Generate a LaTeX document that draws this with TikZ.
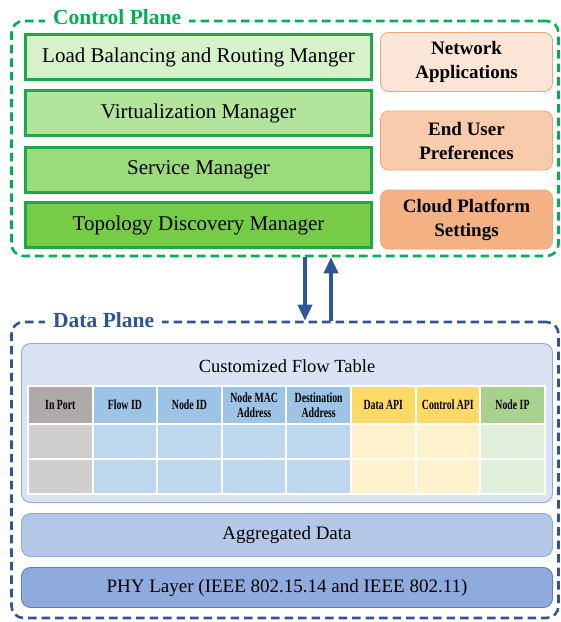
\documentclass[tikz,border=0pt]{standalone}
\usepackage{fontspec}
\setmainfont{Liberation Serif}
\newfontfamily\narrowfont[FakeStretch=0.7]{Liberation Serif}
\usetikzlibrary{arrows.meta,positioning}
\definecolor{cpgreen}{HTML}{00B050}
\definecolor{mgrline}{HTML}{1FA74A}
\definecolor{gA}{HTML}{D7F1CB}
\definecolor{gB}{HTML}{B2E49B}
\definecolor{gC}{HTML}{9ADB7B}
\definecolor{gD}{HTML}{77CC47}
\definecolor{oA}{HTML}{FBE5D6}
\definecolor{oB}{HTML}{F8CBAD}
\definecolor{oC}{HTML}{F4B183}
\definecolor{oline}{HTML}{F0A676}
\definecolor{dpblue}{HTML}{2F5597}
\definecolor{ftbg}{HTML}{DAE3F3}
\definecolor{ftline}{HTML}{8FAADC}
\definecolor{aggbg}{HTML}{B4C7E7}
\definecolor{phybg}{HTML}{8FAADC}
\definecolor{phyline}{HTML}{5B7FC0}
\definecolor{hGray}{HTML}{AEAAAA}
\definecolor{bGray}{HTML}{D0CECE}
\definecolor{hBlue}{HTML}{9DC3E6}
\definecolor{bBlue}{HTML}{BDD7EE}
\definecolor{hGold}{HTML}{FFD966}
\definecolor{bGold}{HTML}{FFF2CC}
\definecolor{hGreen}{HTML}{A9D18E}
\definecolor{bGreen}{HTML}{E2EFDA}

\begin{document}
\begin{tikzpicture}[x=1pt,y=-1pt,
  plane/.style={line width=2.6pt,dash pattern=on 8.5pt off 5pt,rounded corners=12pt},
  ptitle/.style={anchor=west,fill=white,inner xsep=8pt,inner ysep=3pt,font=\bfseries\fontsize{21.5}{24}\selectfont},
  mgr/.style={draw=mgrline,line width=3pt,minimum width=346pt,minimum height=45pt,
    font=\fontsize{21}{24}\selectfont},
  pref/.style={draw=oline,line width=0.8pt,rounded corners=8pt,minimum width=172pt,
    minimum height=59pt,align=center,font=\bfseries\fontsize{19}{24}\selectfont},
  layer/.style={draw,line width=0.9pt,rounded corners=9pt,minimum width=531pt,
    font=\fontsize{19}{22}\selectfont},
  cell/.style={draw=white,line width=2pt,minimum width=64.6pt,inner sep=1pt,align=center,
    font=\narrowfont\bfseries\fontsize{14}{15}\selectfont},
  flow/.style={draw=dpblue,line width=3.5pt,-{Triangle[length=16pt,width=14pt]}}]
  \useasboundingbox (0,0) rectangle (561,622);

  \node[plane,draw=cpgreen,minimum width=547pt,minimum height=235pt] (cp) at (285,138.5) {};
  \node[ptitle,text=cpgreen] (cptitle) at (45,17) {Control Plane};
  \foreach \i/\y/\fc/\txt in {1/57/gA/Load Balancing and Routing Manger,
      2/113/gB/Virtualization Manager,3/169.5/gC/Service Manager,
      4/225/gD/Topology Discovery Manager}
    \node[mgr,fill=\fc] (m\i) at (198.5,\y) {\txt};
  \node[pref,fill=oA] (p1) at (466.5,62) {Network\\Applications};
  \node[pref,fill=oB] (p2) at (466.5,140.5) {End User\\Preferences};
  \node[pref,fill=oC] (p3) at (466.5,219.5) {Cloud Platform\\Settings};

  \node[plane,draw=dpblue,minimum width=547pt,minimum height=296pt] (dp) at (285,470) {};
  \node[ptitle,text=dpblue] (dptitle) at (45,320) {Data Plane};
  \draw[flow] ([xshift=20pt]cp.south) -- ([xshift=20pt]dp.north);
  \draw[flow] ([xshift=46pt]dp.north) -- ([xshift=46pt]cp.south);

  \node[layer,draw=ftline,fill=ftbg,minimum height=159pt] (ft) at (287,423) {};
  \node[font=\fontsize{18.5}{20}\selectfont] (fttitle) at (287,366) {Customized Flow Table};
  \foreach \hd/\hc/\bc [count=\i from 0] in {In Port/hGray/bGray,Flow ID/hBlue/bBlue,
      Node ID/hBlue/bBlue,{Node MAC\\Address}/hBlue/bBlue,{Destination\\Address}/hBlue/bBlue,
      Data API/hGold/bGold,Control API/hGold/bGold,Node IP/hGreen/bGreen} {
    \pgfmathsetmacro{\x}{60.3+64.6*\i}
    \node[cell,fill=\hc,minimum height=38pt] (h\i) at (\x,405) {\hd};
    \node[cell,fill=\bc,minimum height=35pt] (r\i) at (\x,441.5) {};
    \node[cell,fill=\bc,minimum height=35pt] (s\i) at (\x,476.5) {};
  }
  \node[layer,draw=ftline,fill=aggbg,minimum height=43pt] (agg) at (287,535) {Aggregated Data};
  \node[layer,draw=phyline,fill=phybg,minimum height=40pt] (phy) at (287,587.5) {PHY Layer (IEEE 802.15.14 and IEEE 802.11)};
\end{tikzpicture}
\end{document}
